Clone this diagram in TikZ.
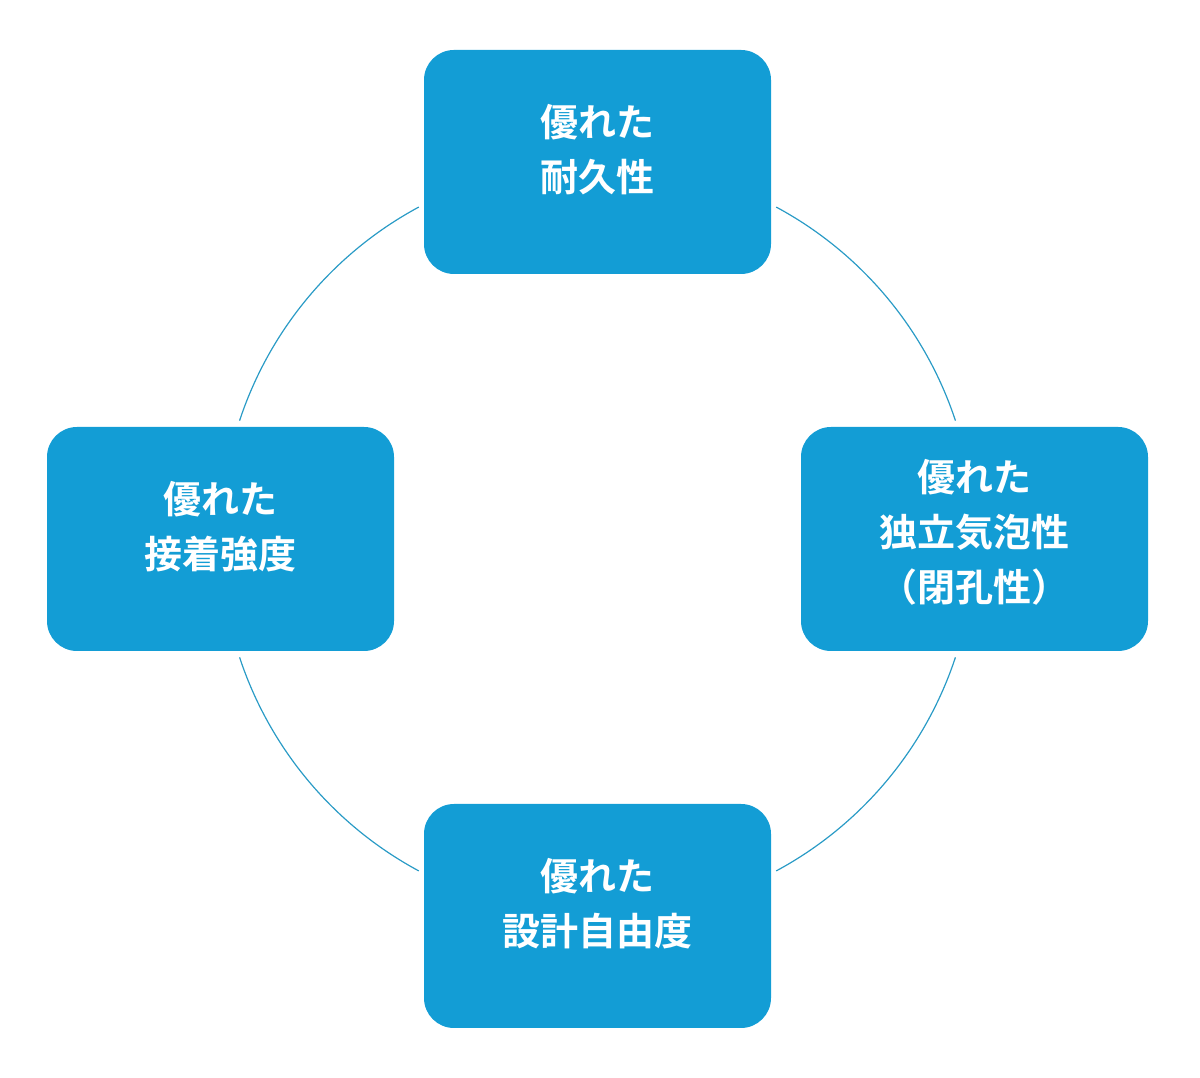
\documentclass[tikz,border=0pt]{standalone}
\usepackage{fontspec}
\usetikzlibrary{calc}
\newfontfamily\cjk{Noto Sans CJK JP Bold}
\definecolor{boxblue}{HTML}{139DD5}
\definecolor{ringblue}{HTML}{2A9BC6}
\begin{document}
\begin{tikzpicture}[x=1pt,y=1pt,
  box/.style={fill=boxblue,rounded corners=30pt,minimum width=347pt,minimum height=224pt,
    text=white,align=center,font=\cjk\fontsize{38}{55}\selectfont,inner sep=0pt},
  lbl/.style={text=white,align=center,font=\cjk\fontsize{38}{55}\selectfont,inner sep=0pt},
  ring/.style={draw=ringblue,line width=1.2pt}]
\useasboundingbox (0,0) rectangle (1200,1078);
\coordinate (c) at (597.5,539);
\foreach \a in {18.3,118.3,198.3,298.3}{
  \draw[ring] ($(c)+(\a:377)$) arc[start angle=\a,end angle=\a+43.4,radius=377];
}
\node[box] (top) at (597.5,916) {};
\node[lbl] at (597.5,928) {優れた\\耐久性};
\node[box] (right) at (974.5,539) {};
\node[lbl] at (974.5,546) {優れた\\独立気泡性\\（閉孔性）};
\node[box] (left) at (220.5,539) {};
\node[lbl] at (220.5,551) {優れた\\接着強度};
\node[box] (bottom) at (597.5,162) {};
\node[lbl] at (597.5,174) {優れた\\設計自由度};
\end{tikzpicture}
\end{document}
